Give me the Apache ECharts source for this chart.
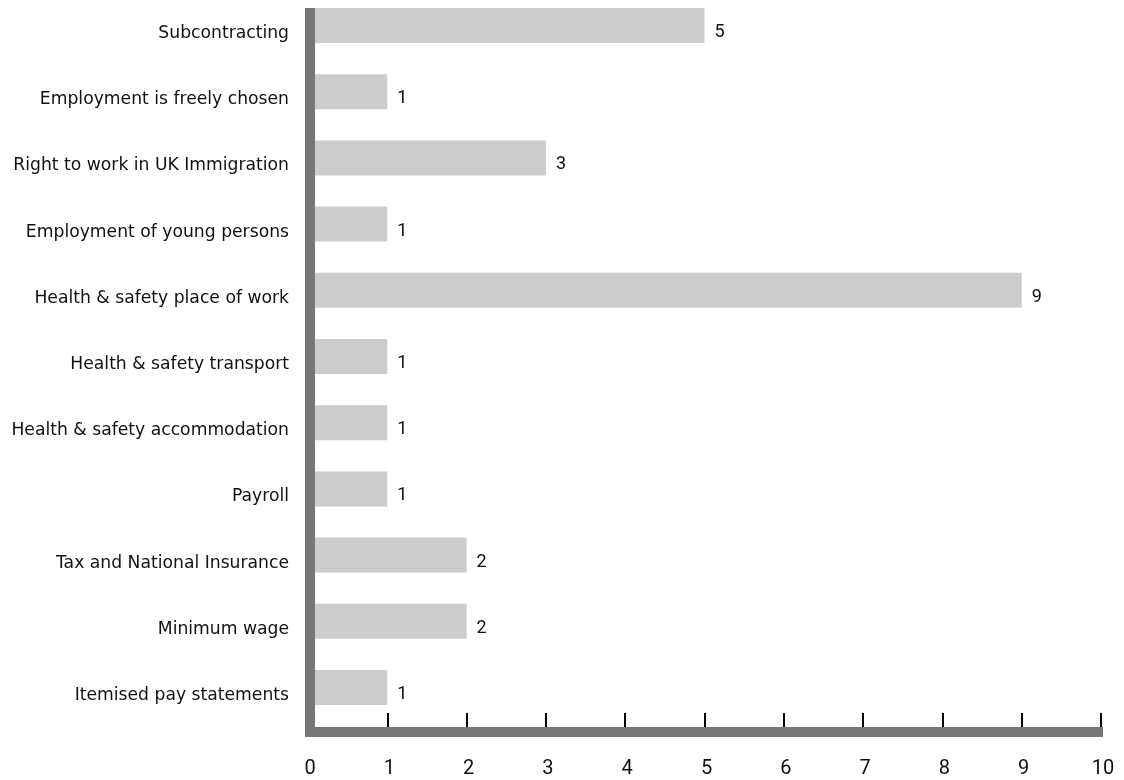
<!DOCTYPE html>
<html>
<head>
<meta charset="utf-8">
<title>Issues by category</title>
<script src="https://cdn.jsdelivr.net/npm/echarts@6/dist/echarts.min.js"></script>
<style>
  html, body { margin: 0; padding: 0; background: #fff; }
  #chart { width: 1124px; height: 780px; }
</style>
</head>
<body>
<div id="chart"></div>
<script>
// categories, top to bottom
var categories = [
  "Subcontracting",
  "Employment is freely chosen",
  "Right to work in UK Immigration",
  "Employment of young persons",
  "Health & safety place of work",
  "Health & safety transport",
  "Health & safety accommodation",
  "Payroll",
  "Tax and National Insurance",
  "Minimum wage",
  "Itemised pay statements"
];
var counts = [5, 1, 3, 1, 9, 1, 1, 1, 2, 2, 1];
var xTicks = [0, 1, 2, 3, 4, 5, 6, 7, 8, 9, 10];

var xMin = xTicks[0];
var xMax = xTicks[xTicks.length - 1];

var myChart = echarts.init(document.getElementById("chart"));

var option = {
  animation: false,
  grid: [
    // bars
    { left: 308, right: 23, top: -7.6, bottom: 59.4, outerBoundsMode: "none" },
    // thick grey frame lines + tick labels
    { left: 310, right: 21, top: 13, bottom: 48, outerBoundsMode: "none" }
  ],
  xAxis: [
    {
      gridIndex: 0,
      type: "value",
      min: xMin,
      max: xMax,
      interval: 1,
      offset: 6.4,
      axisLine: { show: false },
      axisTick: { show: true, inside: true, length: 14, lineStyle: { color: "#000", width: 2 } },
      axisLabel: { show: false },
      splitLine: { show: false }
    },
    {
      gridIndex: 1,
      type: "value",
      min: xMin,
      max: xMax,
      interval: 1,
      z: 5,
      axisLine: { show: true, onZero: false, lineStyle: { color: "#777777", width: 10, cap: "butt" } },
      axisTick: { show: false },
      axisLabel: {
        margin: 27,
        color: "#111",
        fontFamily: "Roboto",
        fontSize: 20
      },
      splitLine: { show: false }
    }
  ],
  yAxis: [
    {
      gridIndex: 0,
      type: "category",
      inverse: true,
      data: categories,
      axisLine: { show: false },
      axisTick: { show: false },
      axisLabel: {
        margin: 19,
        color: "#111",
        fontFamily: "DejaVu Sans",
        fontSize: 17.2,
        verticalAlign: "top",
        lineHeight: 16
      }
    },
    {
      gridIndex: 1,
      type: "value",
      min: 0,
      max: 1,
      z: 5,
      axisLine: { show: true, onZero: false, lineStyle: { color: "#777777", width: 10, cap: "square" } },
      axisTick: { show: false },
      axisLabel: { show: false },
      splitLine: { show: false }
    }
  ],
  series: [
    {
      type: "bar",
      xAxisIndex: 0,
      yAxisIndex: 0,
      data: counts,
      barWidth: 35,
      itemStyle: { color: "#cccccc" },
      label: {
        show: true,
        position: "right",
        distance: 10,
        offset: [0, 7],
        color: "#111",
        fontFamily: "Roboto",
        fontSize: 18
      }
    }
  ]
};

myChart.setOption(option);
</script>
</body>
</html>
